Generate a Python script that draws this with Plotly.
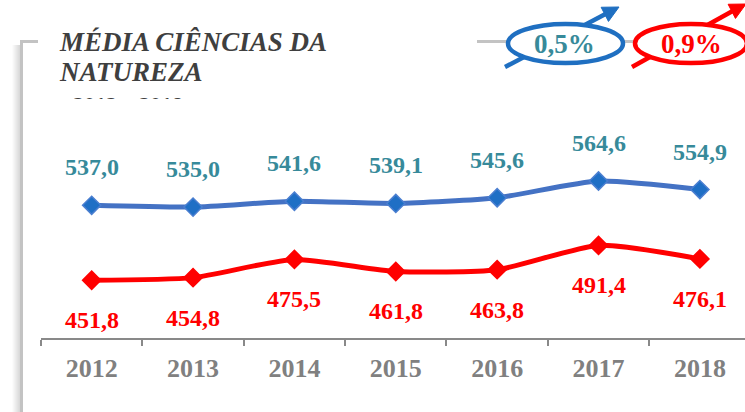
import plotly.graph_objects as go

# ---------------- data ----------------
anos = ["2012", "2013", "2014", "2015", "2016", "2017", "2018"]
serie_azul = [537.0, 535.0, 541.6, 539.1, 545.6, 564.6, 554.9]
serie_vermelha = [451.8, 454.8, 475.5, 461.8, 463.8, 491.4, 476.1]
crescimento = ["0,5%", "0,9%"]
titulo_l1 = "MÉDIA CIÊNCIAS DA"
titulo_l2 = "NATUREZA"
subtitulo = "2012 – 2018"

# ---------------- geometry helpers (pixels -> paper) ----------------
W, H = 745, 412
ML, MR, MT, MB = 41, 0, 0, 74
PW, PH = W - ML - MR, H - MT - MB


def X(px):
    return (px - ML) / PW


def Y(py):
    return (MT + PH - py) / PH


def fmt(v):
    return f"{v:.1f}".replace(".", ",")


SERIF = "Liberation Serif"
AZUL_LINHA = "#4472C4"
AZUL_MARC = "#1F6FC5"
AZUL_ELIPSE = "#1F6FC1"
TEAL = "#378A9A"
VERM = "#FF0000"
CINZA = "#898989"

fig = go.Figure()

fig.add_trace(go.Scatter(
    x=anos, y=serie_azul, mode="lines+markers",
    line=dict(shape="spline", smoothing=0.6, width=5, color=AZUL_LINHA),
    marker=dict(symbol="diamond", size=14, color=AZUL_MARC,
                line=dict(width=1.5, color="#4A7ED0")),
    cliponaxis=False, hoverinfo="skip"))

fig.add_trace(go.Scatter(
    x=anos, y=serie_vermelha, mode="lines+markers",
    line=dict(shape="spline", smoothing=0.6, width=5, color=VERM),
    marker=dict(symbol="diamond", size=14, color=VERM,
                line=dict(width=1.5, color=VERM)),
    cliponaxis=False, hoverinfo="skip"))

# clipped subtitle (only its top edge is visible, as in the reference)
fig.add_trace(go.Scatter(
    x=[32], y=[106.5], text=[subtitulo], mode="text",
    textposition="middle right",
    textfont=dict(family=SERIF, size=22, color="#404040", weight="bold"),
    xaxis="x2", yaxis="y2", cliponaxis=True, hoverinfo="skip"))

annotations = []
for i, v in enumerate(serie_azul):
    annotations.append(dict(x=i, y=v, xref="x", yref="y", text=fmt(v),
                            showarrow=False, yshift=38,
                            font=dict(family=SERIF, size=24, color=TEAL, weight="bold")))
for i, v in enumerate(serie_vermelha):
    annotations.append(dict(x=i, y=v, xref="x", yref="y", text=fmt(v),
                            showarrow=False, yshift=-40,
                            font=dict(family=SERIF, size=24, color=VERM, weight="bold")))

# title
annotations.append(dict(x=X(57), y=Y(42), xref="paper", yref="paper", text=titulo_l1,
                        xanchor="left", yanchor="middle", showarrow=False,
                        font=dict(family=SERIF, size=27, color="#3F3F3F",
                                  weight="bold", style="italic")))
annotations.append(dict(x=X(57), y=Y(72), xref="paper", yref="paper", text=titulo_l2,
                        xanchor="left", yanchor="middle", showarrow=False,
                        font=dict(family=SERIF, size=27, color="#3F3F3F",
                                  weight="bold", style="italic")))

# growth labels
annotations.append(dict(x=X(564), y=Y(44), xref="paper", yref="paper", text=crescimento[0],
                        showarrow=False, xanchor="center", yanchor="middle",
                        font=dict(family=SERIF, size=27, color=TEAL, weight="bold")))
annotations.append(dict(x=X(691), y=Y(44), xref="paper", yref="paper", text=crescimento[1],
                        showarrow=False, xanchor="center", yanchor="middle",
                        font=dict(family=SERIF, size=27, color=VERM, weight="bold")))

shapes = []
# frame shadow
for i, px in enumerate(range(12, 20)):
    g = int(252 - i * 5)
    shapes.append(dict(type="rect", xref="paper", yref="paper",
                       x0=X(px), x1=X(px + 1), y0=Y(412), y1=Y(45),
                       line=dict(width=0), fillcolor=f"rgb({g},{g},{g})"))
# frame lines
shapes.append(dict(type="line", xref="paper", yref="paper",
                   x0=X(21.5), x1=X(21.5), y0=Y(40), y1=Y(412),
                   line=dict(color="#C3C3C3", width=3)))
shapes.append(dict(type="line", xref="paper", yref="paper",
                   x0=X(20), x1=X(38), y0=Y(41.5), y1=Y(41.5),
                   line=dict(color="#C3C3C3", width=3)))
shapes.append(dict(type="line", xref="paper", yref="paper",
                   x0=X(477), x1=X(510), y0=Y(41.5), y1=Y(41.5),
                   line=dict(color="#C3C3C3", width=3)))
shapes.append(dict(type="line", xref="paper", yref="paper",
                   x0=X(620), x1=X(637), y0=Y(41.5), y1=Y(41.5),
                   line=dict(color="#C3C3C3", width=3)))


def arrow_ellipse(cx0, cx1, cy0, cy1, lx0, ly0, tip, color):
    tx, ty = tip
    dx, dy = 110 / 124, -57 / 124
    nx, ny = -dy, dx
    bx, by = tx - 16 * dx, ty - 16 * dy
    lx1, ly1 = tx - 12 * dx, ty - 12 * dy
    out = [
        dict(type="line", xref="paper", yref="paper",
             x0=X(lx0), y0=Y(ly0), x1=X(lx1), y1=Y(ly1),
             line=dict(color=color, width=4.5)),
        dict(type="circle", xref="paper", yref="paper",
             x0=X(cx0), x1=X(cx1), y0=Y(cy1), y1=Y(cy0),
             line=dict(color=color, width=4.5), fillcolor="white"),
    ]
    p1 = (X(tx), Y(ty))
    p2 = (X(bx + 8 * nx), Y(by + 8 * ny))
    p3 = (X(bx - 8 * nx), Y(by - 8 * ny))
    path = f"M {p1[0]},{p1[1]} L {p2[0]},{p2[1]} L {p3[0]},{p3[1]} Z"
    out.append(dict(type="path", xref="paper", yref="paper", path=path,
                    fillcolor=color, line=dict(color=color, width=1)))
    return out


shapes += arrow_ellipse(508, 623, 24, 63, 505, 67, (619, 7), AZUL_ELIPSE)
shapes += arrow_ellipse(635, 747, 24, 63, 632, 67, (746, 4), VERM)

fig.update_layout(
    width=W, height=H,
    margin=dict(l=ML, r=MR, t=MT, b=MB, pad=0),
    paper_bgcolor="white", plot_bgcolor="white",
    showlegend=False,
    xaxis=dict(type="category", range=[-0.5, 6.445],
               showline=True, linecolor=CINZA, linewidth=2,
               ticks="outside", ticklen=6, tickwidth=2, tickcolor=CINZA,
               tickson="boundaries", showgrid=False, zeroline=False,
               tickfont=dict(family=SERIF, size=26, color="#808080", weight="bold"),
               ticklabelstandoff=6),
    yaxis=dict(domain=[0, (PH - 110) / PH], range=[386.2, 645.3],
               visible=False, fixedrange=True),
    xaxis2=dict(domain=[0, 1], range=[0, PW], anchor="y2", visible=False),
    yaxis2=dict(domain=[(PH - 99) / PH, 1], range=[99, 0], anchor="x2", visible=False),
    annotations=annotations,
    shapes=shapes,
)

fig.write_html("out.html", config={"displayModeBar": False},
               post_script="document.body.style.margin='0';")
